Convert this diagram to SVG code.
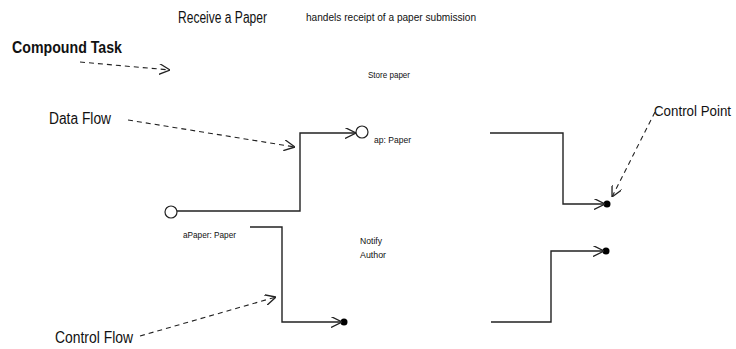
<svg xmlns="http://www.w3.org/2000/svg" width="736" height="349" viewBox="0 0 736 349">
<defs>
<style>
text{font-family:"Liberation Sans",Arial,sans-serif;fill:#111}
.big{font-size:16px}
.bold{font-size:16px;font-weight:bold}
.mid{font-size:11px}
.sm{font-size:9.5px}
.flow{fill:none;stroke:#222;stroke-width:1.4}
.dash{fill:none;stroke:#222;stroke-width:1.1;stroke-dasharray:5,4}
.port{fill:#fff;stroke:#222;stroke-width:1.2}
.dot{fill:#000}
</style>
<marker id="open" viewBox="0 0 10 10" refX="10" refY="5" markerWidth="11" markerHeight="11" markerUnits="userSpaceOnUse" orient="auto">
<path d="M0,0 L10,5 L0,10" fill="none" stroke="#222" stroke-width="1.2"/>
</marker>
</defs>
<rect width="736" height="349" fill="#fff"/>

<g id="task-title">
<text class="big" x="178" y="23" textLength="89" lengthAdjust="spacingAndGlyphs">Receive a Paper</text>
<text class="mid" x="306" y="21" textLength="170" lengthAdjust="spacingAndGlyphs">handels receipt of a paper submission</text>
</g>
<g id="legend-compound"><text class="bold" x="12" y="53" textLength="110" lengthAdjust="spacingAndGlyphs">Compound Task</text></g>
<g id="legend-dataflow"><text class="big" x="49" y="124" textLength="62" lengthAdjust="spacingAndGlyphs">Data Flow</text></g>
<g id="legend-controlpoint"><text x="654" y="116" style="font-size:14px" textLength="77" lengthAdjust="spacingAndGlyphs">Control Point</text></g>
<g id="legend-controlflow"><text class="big" x="55" y="343" textLength="78" lengthAdjust="spacingAndGlyphs">Control Flow</text></g>

<g id="store-paper">
<text class="sm" x="368" y="78" textLength="42" lengthAdjust="spacingAndGlyphs">Store paper</text>
<circle class="port" cx="362" cy="132" r="6"/>
<text class="sm" x="374" y="143" textLength="37" lengthAdjust="spacingAndGlyphs">ap: Paper</text>
</g>
<g id="input-port">
<circle class="port" cx="171" cy="212" r="6"/>
<text class="sm" x="183" y="238" textLength="53" lengthAdjust="spacingAndGlyphs">aPaper: Paper</text>
</g>
<g id="notify-author">
<text class="sm" x="360" y="244" textLength="22" lengthAdjust="spacingAndGlyphs">Notify</text>
<text class="sm" x="360" y="258" textLength="26" lengthAdjust="spacingAndGlyphs">Author</text>
</g>
<g id="control-point-1"><circle class="dot" cx="607" cy="204" r="3.5"/></g>
<g id="control-point-2"><circle class="dot" cx="344" cy="322" r="3.5"/></g>
<g id="control-point-3"><circle class="dot" cx="606" cy="251" r="3.5"/></g>

<g id="connectors">
<polyline class="flow" points="177,211 300,211 300,133 356,133" marker-end="url(#open)"/>
<polyline class="flow" points="490,133 563,133 563,204 605,204" marker-end="url(#open)"/>
<polyline class="flow" points="250,227 282,227 282,322 342,322" marker-end="url(#open)"/>
<polyline class="flow" points="491,322 551,322 551,251 604,251" marker-end="url(#open)"/>
<line class="dash" x1="80" y1="62" x2="170" y2="70" marker-end="url(#open)"/>
<line class="dash" x1="128" y1="120" x2="295" y2="147" marker-end="url(#open)"/>
<line class="dash" x1="655" y1="112" x2="612" y2="197" marker-end="url(#open)"/>
<line class="dash" x1="140" y1="336" x2="276" y2="297" marker-end="url(#open)"/>
</g>
</svg>
